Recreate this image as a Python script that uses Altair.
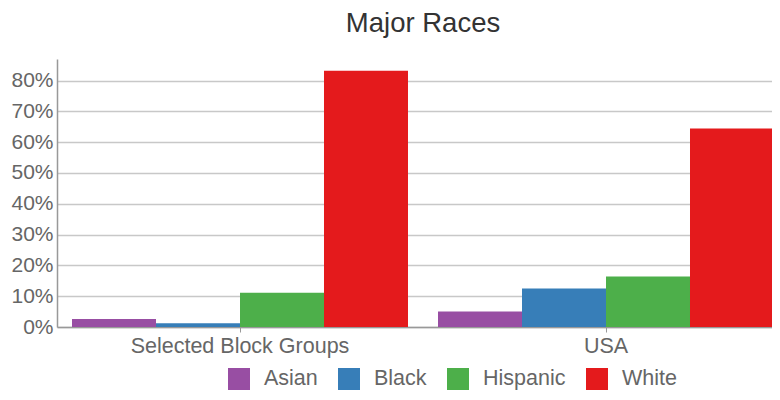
import altair as alt
import pandas as pd

groups = ["Selected Block Groups", "USA"]
races = ["Asian", "Black", "Hispanic", "White"]
selected_vals = [0.026, 0.012, 0.111, 0.832]
usa_vals = [0.050, 0.125, 0.164, 0.644]
colors = ["#984ea3", "#377eb8", "#4daf4a", "#e41a1c"]
y_ticks = [0, 0.1, 0.2, 0.3, 0.4, 0.5, 0.6, 0.7, 0.8]

rows = []
for g, vals in zip(groups, [selected_vals, usa_vals]):
    for r, v in zip(races, vals):
        rows.append({"group": g, "race": r, "value": v})
df = pd.DataFrame(rows)

FONT = "Liberation Sans"

chart = alt.Chart(df).mark_bar().encode(
    x=alt.X("group:N", sort=groups, title=None,
            scale=alt.Scale(paddingInner=0.082, paddingOuter=0.041),
            axis=alt.Axis(labelAngle=0, labelFontSize=21.5, labelColor="#666",
                          labelFont=FONT, labelLimit=0, domainColor="#999", domainWidth=1.5,
                          tickColor="#999", tickSize=5, labelPadding=3, grid=False)),
    xOffset=alt.XOffset("race:N", sort=races, scale=alt.Scale(paddingInner=0, paddingOuter=0)),
    y=alt.Y("value:Q", title=None,
            scale=alt.Scale(domain=[0, 0.87], nice=False),
            axis=alt.Axis(values=y_ticks, format=".0%", labelFontSize=21,
                          labelColor="#666", labelFont=FONT, ticks=False,
                          labelPadding=4, domainColor="#999", domainWidth=1.5,
                          gridColor="#c8c8c8", gridWidth=1.5)),
    color=alt.Color("race:N", sort=races,
                    scale=alt.Scale(domain=races, range=colors),
                    legend=alt.Legend(title=None, orient="none", direction="horizontal",
                                      legendX=171, legendY=309,
                                      symbolType="square", symbolSize=484,
                                      symbolStrokeWidth=0, symbolOpacity=1,
                                      labelFontSize=21.5, labelColor="#666",
                                      labelFont=FONT, labelOffset=14,
                                      columnPadding=20)),
).properties(
    width=732,
    height=268,
    title=alt.TitleParams("Major Races", fontSize=27.5, font=FONT, color="#333",
                          fontWeight="normal", anchor="middle", offset=22),
    autosize=alt.AutoSizeParams(type="none"),
    padding={"left": 49, "top": 51, "right": -17, "bottom": 65},
).configure_view(stroke=None)

chart.save("out.html", embed_options={"renderer": "svg", "actions": False})
